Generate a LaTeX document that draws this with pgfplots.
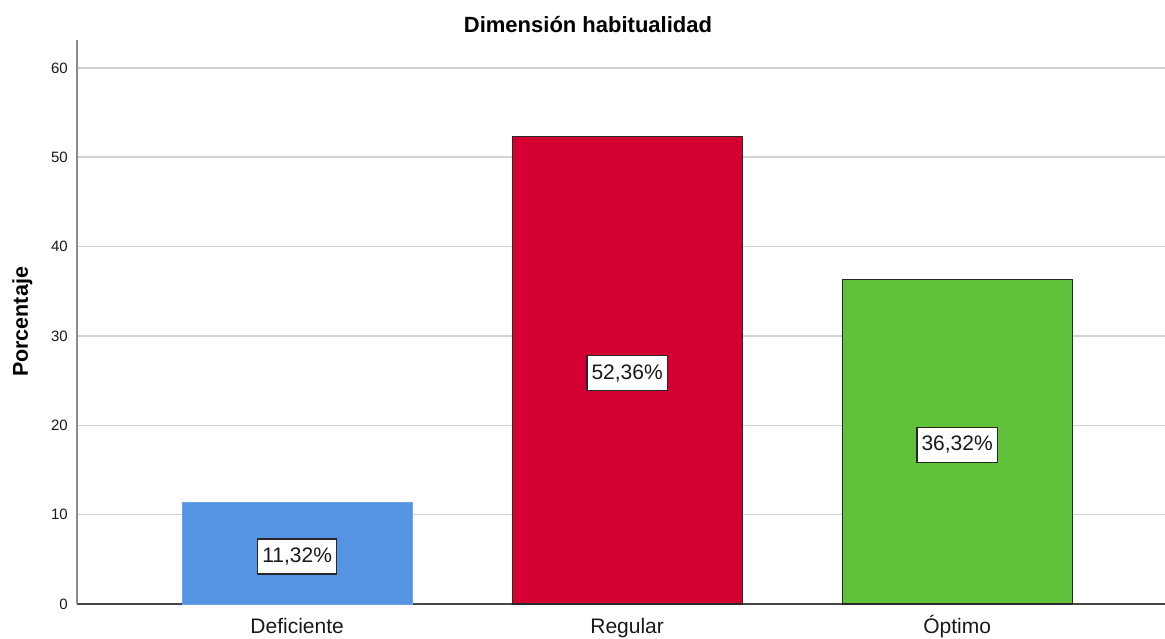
\documentclass[border=0pt]{standalone}
\usepackage{pgfplots}
\pgfplotsset{compat=1.18}
\usepackage{fontspec}
\setmainfont{Liberation Sans}
\definecolor{cblue}{RGB}{85,148,226}
\definecolor{cblueedge}{RGB}{110,165,232}
\definecolor{cred}{RGB}{213,0,50}
\definecolor{cgreen}{RGB}{95,194,58}
\definecolor{gridc}{RGB}{210,210,210}
\definecolor{edgec}{RGB}{40,40,40}
\begin{document}
\begin{tikzpicture}
\begin{axis}[
  name=ax,
  scale only axis,
  width=1088pt, height=564pt,
  xmin=-0.667, xmax=2.630,
  ymin=0, ymax=63.13,
  axis x line=bottom, axis y line=left,
  axis line style={-},
  x axis line style={draw={rgb,255:red,70;green,70;blue,70}, line width=1.3pt},
  y axis line style={draw={rgb,255:red,140;green,140;blue,140}, line width=1.6pt},
  xtick={0,1,2},
  xticklabels={Deficiente,Regular,Óptimo},
  ytick={0,10,20,30,40,50,60},
  major tick length=0pt,
  ymajorgrids,
  major grid style={draw=gridc, line width=1.6pt},
  /pgf/number format/assume math mode=true,
  yticklabel style={font=\fontsize{15}{18}\selectfont, anchor=east, inner sep=0pt, xshift=-9pt, text=black!90},
  xticklabel style={font=\fontsize{21}{25}\selectfont, anchor=base, inner sep=0pt, yshift=-30pt, text=black!90},
  ybar, bar width=230pt, bar shift=0pt,
  clip=false,
]
\addplot[fill=cblue, draw=cblueedge, line width=0.8pt] coordinates {(0,11.32)};
\addplot[fill=cred, draw=edgec, line width=1.2pt] coordinates {(1,52.36)};
\addplot[fill=cgreen, draw=edgec, line width=1.2pt] coordinates {(2,36.32)};
\tikzset{vl/.style={draw=edgec, line width=1.4pt, fill=white, inner xsep=4.5pt, minimum height=35pt, font=\fontsize{21}{25}\selectfont, text=black!90, yshift=-3pt}}
\node[vl] at (axis cs:0,5.66) {11,32\%};
\node[vl] at (axis cs:1,26.18) {52,36\%};
\node[vl] at (axis cs:2,18.16) {36,32\%};
\end{axis}
\node[anchor=base, font=\bfseries\fontsize{22}{26}\selectfont] at ([shift={(511pt,571pt)}]ax.south west) {Dimensión habitualidad};
\node[anchor=base, rotate=90, font=\bfseries\fontsize{21.5}{26}\selectfont] at ([shift={(-49pt,282pt)}]ax.south west) {Porcentaje};
\pgfresetboundingbox
\path ([shift={(-77pt,-35pt)}]ax.south west) rectangle ([shift={(0pt,40pt)}]ax.north east);
\end{tikzpicture}
\end{document}
